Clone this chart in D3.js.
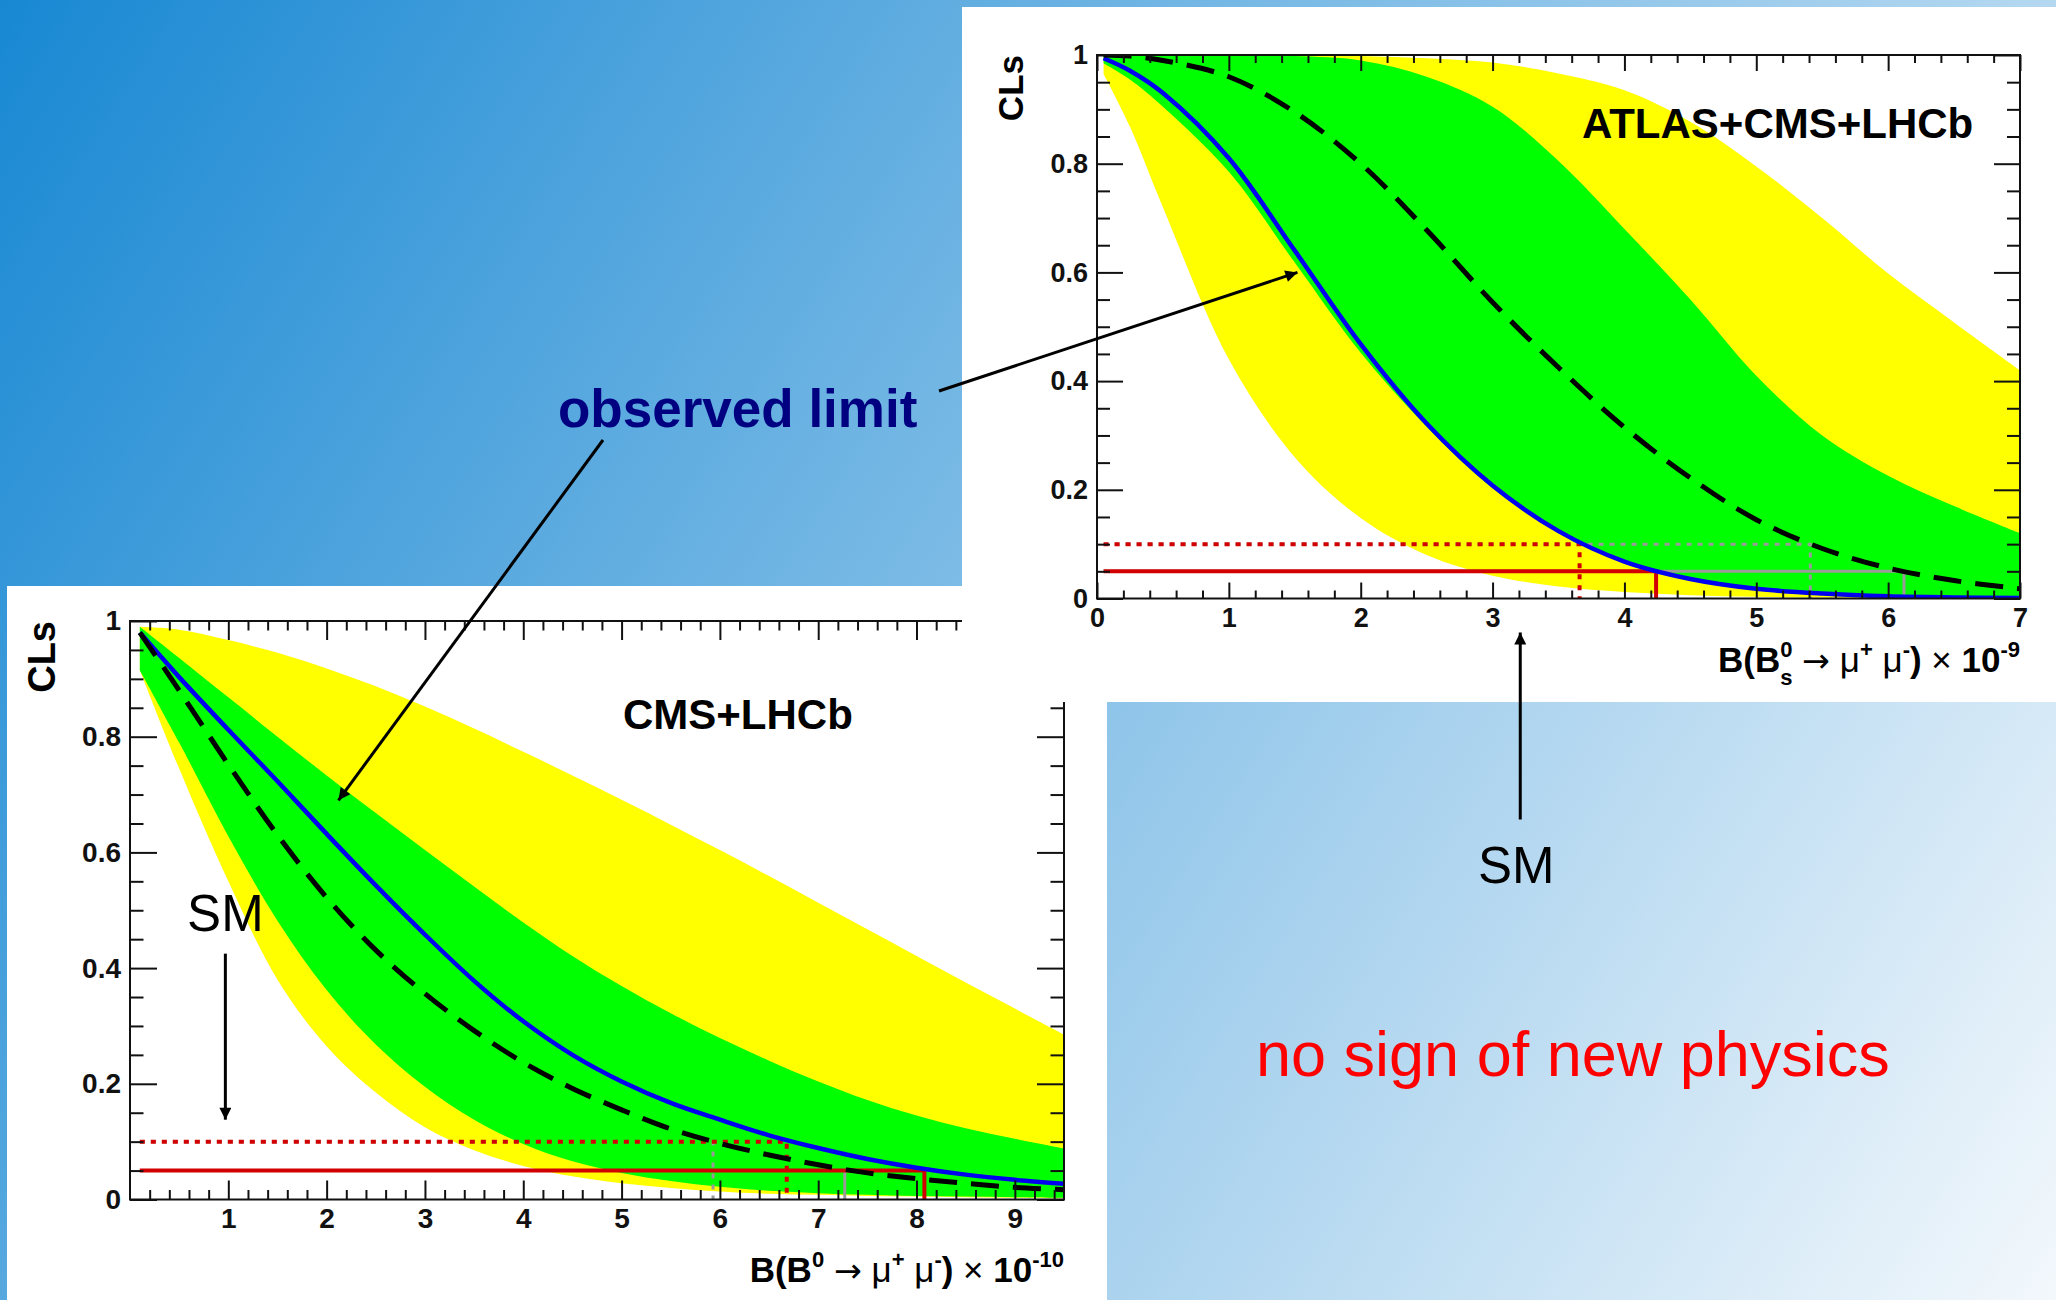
<!DOCTYPE html>
<html>
<head>
<meta charset="utf-8">
<script src="https://cdn.jsdelivr.net/npm/d3@7"></script>
<style>
  html, body { margin: 0; padding: 0; overflow: hidden; background: #fff; }
  text { white-space: pre; }
</style>
</head>
<body>
<svg id="slide" width="2056" height="1300"></svg>
<script>
// ATLAS+CMS+LHCb, B(Bs -> mu mu) x 1e-9
const atlasX = [0.05, 0.25, 0.5, 1, 1.5, 2, 2.5, 3, 3.5, 4, 4.5, 5, 5.5, 6, 6.5, 7]
const atlasYellowHi = [1.0, 1.0, 1.0, 1.0, 1.0, 0.998, 0.994, 0.986, 0.966, 0.935, 0.877, 0.795, 0.70, 0.598, 0.508, 0.42]
const atlasGreenHi = [1.0, 1.0, 1.0, 1.0, 0.998, 0.99, 0.96, 0.905, 0.805, 0.68, 0.55, 0.41, 0.30, 0.226, 0.17, 0.12]
const atlasGreenLo = [0.985, 0.955, 0.905, 0.785, 0.618, 0.452, 0.316, 0.203, 0.122, 0.066, 0.035, 0.017, 0.008, 0.004, 0.002, 0.001]
const atlasYellowLo = [0.965, 0.868, 0.72, 0.44, 0.26, 0.148, 0.08, 0.042, 0.022, 0.012, 0.006, 0.003, 0.002, 0.001, 0, 0]
const atlasObserved = [0.994, 0.971, 0.93, 0.81, 0.64, 0.468, 0.322, 0.208, 0.124, 0.068, 0.036, 0.018, 0.009, 0.004, 0.002, 0.001]
const atlasExpected = [1.0, 0.998, 0.99, 0.96, 0.895, 0.80, 0.678, 0.545, 0.425, 0.315, 0.222, 0.145, 0.092, 0.056, 0.033, 0.018]
const atlasObservedLimits = [3.66, 4.24]   // at CLs 0.10, 0.05
const atlasExpectedLimits = [5.41, 6.12]
const atlasSM = 3.21
const atlasXTicks = [0, 1, 2, 3, 4, 5, 6, 7]
const atlasXLabels = ["0", "1", "2", "3", "4", "5", "6", "7"]

// CMS+LHCb, B(B0 -> mu mu) x 1e-10
const cmsX = [0.1, 0.5, 1, 1.5, 2, 2.5, 3, 3.5, 4, 4.5, 5, 5.5, 6, 6.5, 7, 7.5, 8, 8.5, 9, 9.5]
const cmsYellowHi = [0.99, 0.985, 0.967, 0.945, 0.918, 0.887, 0.852, 0.814, 0.774, 0.733, 0.691, 0.648, 0.604, 0.559, 0.513, 0.467, 0.421, 0.375, 0.33, 0.285]
const cmsGreenHi = [0.99, 0.936, 0.868, 0.8, 0.733, 0.668, 0.604, 0.541, 0.479, 0.421, 0.369, 0.322, 0.279, 0.24, 0.204, 0.172, 0.145, 0.123, 0.105, 0.088]
const cmsGreenLo = [0.915, 0.79, 0.628, 0.482, 0.362, 0.268, 0.195, 0.138, 0.096, 0.066, 0.046, 0.032, 0.022, 0.015, 0.011, 0.008, 0.006, 0.005, 0.004, 0.003]
const cmsYellowLo = [0.915, 0.745, 0.55, 0.38, 0.265, 0.185, 0.125, 0.085, 0.058, 0.04, 0.028, 0.02, 0.014, 0.01, 0.008, 0.006, 0.005, 0.004, 0.003, 0.002]
const cmsObserved = [0.98, 0.903, 0.812, 0.723, 0.632, 0.543, 0.458, 0.378, 0.308, 0.25, 0.204, 0.167, 0.138, 0.111, 0.089, 0.07, 0.055, 0.043, 0.034, 0.027]
const cmsExpected = [0.98, 0.88, 0.752, 0.63, 0.522, 0.431, 0.356, 0.292, 0.237, 0.192, 0.155, 0.122, 0.097, 0.077, 0.06, 0.046, 0.036, 0.028, 0.021, 0.017]
const cmsObservedLimits = [6.68, 8.08]
const cmsExpectedLimits = [5.93, 7.27]
const cmsSM = 0.97
const cmsXTicks = [1, 2, 3, 4, 5, 6, 7, 8, 9]
const cmsXLabels = ["1", "2", "3", "4", "5", "6", "7", "8", "9"]

const limitLevels = [0.1, 0.05]
const clsTicks = [0, 0.2, 0.4, 0.6, 0.8, 1]
const clsTickLabels = ["0", "0.2", "0.4", "0.6", "0.8", "1"]

const FONT = "'Liberation Sans', Arial, Helvetica, sans-serif"
const smooth = d3.curveCatmullRom.alpha(0.5)

const svg = d3.select("#slide")
const defs = svg.append("defs")

// slide background
const bg = defs.append("linearGradient")
  .attr("id", "bg-gradient")
  .attr("gradientUnits", "userSpaceOnUse")
  .attr("x1", 0).attr("y1", 0).attr("x2", 2056).attr("y2", 1300)
bg.append("stop").attr("offset", "0%").attr("stop-color", "#1888d3")
bg.append("stop").attr("offset", "100%").attr("stop-color", "#f3f8fc")

defs.append("marker")
  .attr("id", "arrowhead")
  .attr("viewBox", "0 0 10 10")
  .attr("refX", 10).attr("refY", 5)
  .attr("markerWidth", 17).attr("markerHeight", 12)
  .attr("markerUnits", "userSpaceOnUse")
  .attr("orient", "auto")
  .append("path")
  .attr("d", "M0,0L10,5L0,10z")
  .attr("fill", "#000")

svg.append("rect")
  .attr("width", 2056).attr("height", 1300)
  .attr("fill", "url(#bg-gradient)")

function axisTitle(g, xRight, yBase, size, sub, expo) {
  const s = Math.round(size * 0.62)
  const t = g.append("text")
    .attr("x", xRight).attr("y", yBase)
    .attr("text-anchor", "end")
    .attr("font-family", FONT)
    .attr("font-size", size)
    .attr("font-weight", "bold")
    .attr("fill", "#000")
  const up = size * 0.42
  t.append("tspan").text("B(B")
  t.append("tspan").attr("font-size", s).attr("dy", -up).text("0")
  let back = up
  if (sub) {
    const down = size * 0.36
    t.append("tspan").attr("font-size", s).attr("dx", -s * 0.56).attr("dy", up + down).text(sub)
    back = -down
  }
  t.append("tspan").attr("font-weight", "normal").attr("dy", back).text(" ")
  t.append("tspan").attr("font-weight", "normal").attr("font-family", "'DejaVu Sans', sans-serif")
    .attr("font-size", size * 0.95).text("\u2192")
  t.append("tspan").attr("font-weight", "normal").text(" \u03bc")
  t.append("tspan").attr("font-size", s).attr("dy", -up).text("+")
  t.append("tspan").attr("font-weight", "normal").attr("dy", up).text(" \u03bc")
  t.append("tspan").attr("font-size", s).attr("dy", -up).text("-")
  t.append("tspan").attr("dy", up).text(")")
  t.append("tspan").attr("font-weight", "normal").text(" \u00d7 ")
  t.append("tspan").text("10")
  t.append("tspan").attr("font-size", s).attr("dy", -up).text(expo)
}

function drawChart(c) {
  const x = d3.scaleLinear().domain(c.xDomain).range([c.left, c.right])
  const y = d3.scaleLinear().domain([0, 1]).range([c.bottom, c.top])
  const g = svg.append("g")

  // white panel
  g.append("rect")
    .attr("x", c.panel[0]).attr("y", c.panel[1])
    .attr("width", c.panel[2]).attr("height", c.panel[3])
    .attr("fill", "#fff")

  defs.append("clipPath").attr("id", c.id + "-clip")
    .append("rect")
    .attr("x", c.left).attr("y", c.top)
    .attr("width", c.right - c.left).attr("height", c.bottom - c.top)

  const plot = g.append("g").attr("clip-path", `url(#${c.id}-clip)`)

  const rows = c.xs.map((v, i) => ({
    x: v,
    yl: c.yellowLo[i], yh: c.yellowHi[i],
    gl: c.greenLo[i], gh: c.greenHi[i],
    obs: c.observed[i], exp: c.expected[i]
  }))

  const band = (lo, hi) => d3.area()
    .curve(smooth)
    .x(d => x(d.x)).y0(d => y(d[lo])).y1(d => y(d[hi]))

  plot.append("path").datum(rows).attr("d", band("yl", "yh")).attr("fill", "#ffff00")
  plot.append("path").datum(rows).attr("d", band("gl", "gh")).attr("fill", "#00ff00")

  // limit lines: grey = expected, red = observed
  const x0 = c.xs[0]
  limitLevels.forEach((lvl, i) => {
    const dotted = i === 0
    const mk = at => `M${x(x0)},${y(lvl)}H${x(at)}V${y(0)}`
    plot.append("path")
      .attr("d", mk(c.expLimits[i]))
      .attr("fill", "none")
      .attr("stroke", "#9a9a9a")
      .attr("stroke-width", 3)
      .attr("stroke-dasharray", dotted ? "5,6" : null)
    plot.append("path")
      .attr("d", mk(c.obsLimits[i]))
      .attr("fill", "none")
      .attr("stroke", "#d20000")
      .attr("stroke-width", 4)
      .attr("stroke-dasharray", dotted ? "5,6" : null)
  })

  const line = key => d3.line()
    .curve(smooth)
    .x(d => x(d.x)).y(d => y(d[key]))

  plot.append("path").datum(rows)
    .attr("d", line("obs"))
    .attr("fill", "none")
    .attr("stroke", "#0000f0")
    .attr("stroke-width", 4.5)

  plot.append("path").datum(rows)
    .attr("d", line("exp"))
    .attr("fill", "none")
    .attr("stroke", "#000")
    .attr("stroke-width", 5)
    .attr("stroke-dasharray", "28,14")

  // axes, ROOT style ticks pointing inward on all four sides
  const xMinor = d3.range(c.xDomain[0], c.xDomain[1] + 1e-9, 0.2).filter(v => Math.abs(v - Math.round(v)) > 1e-6)
  const yMinor = d3.range(0, 1.0001, 0.05).filter(v => Math.abs(v * 5 - Math.round(v * 5)) > 1e-6)

  const styleAxis = sel => {
    sel.select(".domain").remove()
    sel.selectAll("line").attr("stroke", "#111").attr("stroke-width", 2)
    sel.attr("font-family", FONT).attr("font-size", c.tickFont).attr("font-weight", "bold")
    sel.selectAll("text").attr("fill", "#111")
  }

  const xLab = d => c.xLabels[c.xTicks.indexOf(d)]
  const yLab = d => clsTickLabels[clsTicks.indexOf(d)]

  g.append("g").attr("transform", `translate(0,${c.bottom})`)
    .call(d3.axisBottom(x).tickValues(c.xTicks).tickFormat(xLab).tickSize(-c.xMajor).tickSizeOuter(0).tickPadding(9))
    .call(styleAxis)
  g.append("g").attr("transform", `translate(0,${c.bottom})`)
    .call(d3.axisBottom(x).tickValues(xMinor).tickFormat("").tickSize(-c.xMajor / 2).tickSizeOuter(0))
    .call(styleAxis)
  g.append("g").attr("transform", `translate(0,${c.top})`)
    .call(d3.axisTop(x).tickValues(c.xTicks).tickFormat("").tickSize(-c.xMajor).tickSizeOuter(0))
    .call(styleAxis)
  g.append("g").attr("transform", `translate(0,${c.top})`)
    .call(d3.axisTop(x).tickValues(xMinor).tickFormat("").tickSize(-c.xMajor / 2).tickSizeOuter(0))
    .call(styleAxis)

  g.append("g").attr("transform", `translate(${c.left},0)`)
    .call(d3.axisLeft(y).tickValues(clsTicks).tickFormat(yLab).tickSize(-c.yMajor).tickSizeOuter(0).tickPadding(9))
    .call(styleAxis)
  g.append("g").attr("transform", `translate(${c.left},0)`)
    .call(d3.axisLeft(y).tickValues(yMinor).tickFormat("").tickSize(-c.yMajor / 2).tickSizeOuter(0))
    .call(styleAxis)
  g.append("g").attr("transform", `translate(${c.right},0)`)
    .call(d3.axisRight(y).tickValues(clsTicks).tickFormat("").tickSize(-c.yMajor).tickSizeOuter(0))
    .call(styleAxis)
  g.append("g").attr("transform", `translate(${c.right},0)`)
    .call(d3.axisRight(y).tickValues(yMinor).tickFormat("").tickSize(-c.yMajor / 2).tickSizeOuter(0))
    .call(styleAxis)

  g.append("rect")
    .attr("x", c.left).attr("y", c.top)
    .attr("width", c.right - c.left).attr("height", c.bottom - c.top)
    .attr("fill", "none")
    .attr("stroke", "#111")
    .attr("stroke-width", 2)

  // CLs label
  g.append("text")
    .attr("transform", `translate(${c.clsX},${c.top}) rotate(-90)`)
    .attr("text-anchor", "end")
    .attr("font-family", FONT)
    .attr("font-size", c.clsFont)
    .attr("font-weight", "bold")
    .text("CLs")

  g.append("text")
    .attr("x", c.labelX).attr("y", c.labelY)
    .attr("font-family", FONT)
    .attr("font-size", 42)
    .attr("font-weight", "bold")
    .text(c.label)

  axisTitle(g, c.right, c.titleY, 35, c.sub, c.expo)

  return { x, y }
}

const cms = drawChart({
  id: "cms",
  panel: [7, 586, 1100, 714],
  left: 130, right: 1064, top: 621, bottom: 1199.5,
  xDomain: [0, 9.5],
  xs: cmsX,
  yellowHi: cmsYellowHi, yellowLo: cmsYellowLo,
  greenHi: cmsGreenHi, greenLo: cmsGreenLo,
  observed: cmsObserved, expected: cmsExpected,
  obsLimits: cmsObservedLimits, expLimits: cmsExpectedLimits,
  xTicks: cmsXTicks, xLabels: cmsXLabels,
  xMajor: 19, yMajor: 27, tickFont: 28,
  clsX: 55, clsFont: 38,
  label: "CMS+LHCb", labelX: 623, labelY: 729,
  titleY: 1282, sub: null, expo: "-10"
})

const atlas = drawChart({
  id: "atlas",
  panel: [962, 7, 1094, 695],
  left: 1097, right: 2020, top: 55, bottom: 598.5,
  xDomain: [0, 7],
  xs: atlasX,
  yellowHi: atlasYellowHi, yellowLo: atlasYellowLo,
  greenHi: atlasGreenHi, greenLo: atlasGreenLo,
  observed: atlasObserved, expected: atlasExpected,
  obsLimits: atlasObservedLimits, expLimits: atlasExpectedLimits,
  xTicks: atlasXTicks, xLabels: atlasXLabels,
  xMajor: 16, yMajor: 26, tickFont: 27,
  clsX: 1023, clsFont: 35,
  label: "ATLAS+CMS+LHCb", labelX: 1582, labelY: 138,
  titleY: 672, sub: "s", expo: "-9"
})

// annotations
const arrow = (x1, y1, x2, y2) => svg.append("line")
  .attr("x1", x1).attr("y1", y1).attr("x2", x2).attr("y2", y2)
  .attr("stroke", "#000")
  .attr("stroke-width", 3)
  .attr("marker-end", "url(#arrowhead)")

svg.append("text")
  .attr("x", 558).attr("y", 427)
  .attr("font-family", FONT)
  .attr("font-size", 53)
  .attr("font-weight", "bold")
  .attr("fill", "#000080")
  .text("observed limit")

arrow(939, 391, atlas.x(1.52), atlas.y(0.6))
arrow(603, 440, cms.x(2.12), cms.y(0.69))

svg.append("text")
  .attr("x", cms.x(cmsSM)).attr("y", 931)
  .attr("text-anchor", "middle")
  .attr("font-family", FONT)
  .attr("font-size", 51)
  .text("SM")
arrow(cms.x(cmsSM), cms.y(0.425), cms.x(cmsSM), cms.y(0.138))

svg.append("text")
  .attr("x", atlas.x(atlasSM) - 4).attr("y", 883)
  .attr("text-anchor", "middle")
  .attr("font-family", FONT)
  .attr("font-size", 51)
  .text("SM")
arrow(atlas.x(atlasSM), atlas.y(0) + 221, atlas.x(atlasSM), atlas.y(0) + 34)

svg.append("text")
  .attr("x", 1256).attr("y", 1076)
  .attr("font-family", FONT)
  .attr("font-size", 63)
  .attr("fill", "#ff0000")
  .text("no sign of new physics")
</script>
</body>
</html>
